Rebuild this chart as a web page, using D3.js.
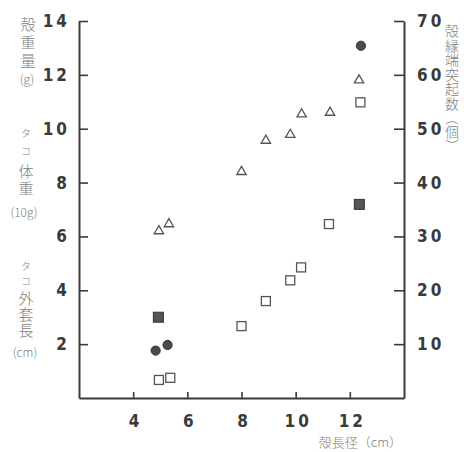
<!DOCTYPE html>
<html>
<head>
<meta charset="utf-8">
<script src="https://cdn.jsdelivr.net/npm/d3@7"></script>
<style>
  body { margin: 0; background: #fff; }
  .tick text { font-family: "DejaVu Sans Condensed", "DejaVu Sans", sans-serif; font-weight: bold; fill: #3a3a3a; }
  .title { font-family: "Noto Sans CJK JP", sans-serif; fill: #808080; font-weight: 300; }
</style>
</head>
<body>
<div id="chart"></div>
<script>
// Shell long diameter (cm) vs. measurements
const leftTicks = [2, 4, 6, 8, 10, 12, 14];
const rightTicks = [10, 20, 30, 40, 50, 60, 70];
const xTicks = [4, 6, 8, 10, 12];

// filled circles (left axis)
const circles = [[4.83, 1.76], [5.27, 1.97], [12.41, 13.08]];
// filled squares (left axis)
const filledSquares = [[4.93, 3.0], [12.35, 7.19]];
// open squares (left axis)
const openSquares = [[4.95, 0.67], [5.37, 0.75], [8.0, 2.67], [8.9, 3.6], [9.8, 4.37], [10.2, 4.85], [11.23, 6.46], [12.39, 10.98]];
// open triangles (right axis, count)
const triangles = [[4.95, 31], [5.32, 32.3], [8.0, 42], [8.9, 47.8], [9.8, 48.9], [10.22, 52.7], [11.27, 53], [12.34, 59]];

const width = 464, height = 452;
const margin = { top: 21, right: 60, bottom: 54, left: 79 };

const svg = d3.select("#chart").append("svg")
    .attr("width", width)
    .attr("height", height);

const x = d3.scaleLinear().domain([2, 14]).range([margin.left, width - margin.right]);
const yL = d3.scaleLinear().domain([0, 14]).range([height - margin.bottom, margin.top]);
const yR = d3.scaleLinear().domain([0, 70]).range([height - margin.bottom, margin.top]);

// Axes
const leftAxis = svg.append("g")
    .attr("transform", `translate(${margin.left},0)`)
    .call(d3.axisLeft(yL).tickValues(leftTicks).tickSizeInner(-9).tickSizeOuter(0).tickPadding(11));
const rightAxis = svg.append("g")
    .attr("transform", `translate(${width - margin.right},0)`)
    .call(d3.axisRight(yR).tickValues(rightTicks).tickSizeInner(-10).tickSizeOuter(0).tickPadding(13));
const bottomAxis = svg.append("g")
    .attr("transform", `translate(0,${height - margin.bottom})`)
    .call(d3.axisBottom(x).tickValues(xTicks).tickSizeInner(-6).tickSizeOuter(0).tickPadding(17));

[leftAxis, rightAxis, bottomAxis].forEach(g => {
    g.select(".domain").attr("stroke", "#3a3a3a").attr("stroke-width", 2);
    g.selectAll(".tick line").attr("stroke", "#3a3a3a").attr("stroke-width", 1.6);
    g.selectAll(".tick text").attr("font-size", 17).attr("letter-spacing", 3);
});
bottomAxis.selectAll(".tick text").attr("dx", 2);
leftAxis.selectAll(".tick text").attr("dx", 2);

// Markers
svg.append("g").selectAll("rect")
    .data(openSquares)
    .join("rect")
    .attr("x", d => x(d[0]) - 4.5)
    .attr("y", d => yL(d[1]) - 4.5)
    .attr("width", 9).attr("height", 9)
    .attr("fill", "#fff").attr("stroke", "#555").attr("stroke-width", 1.3);

svg.append("g").selectAll("rect")
    .data(filledSquares)
    .join("rect")
    .attr("x", d => x(d[0]) - 5)
    .attr("y", d => yL(d[1]) - 5)
    .attr("width", 10).attr("height", 10)
    .attr("fill", "#555").attr("stroke", "#333").attr("stroke-width", 1);

svg.append("g").selectAll("circle")
    .data(circles)
    .join("circle")
    .attr("cx", d => x(d[0]))
    .attr("cy", d => yL(d[1]))
    .attr("r", 4.6)
    .attr("fill", "#4a4a4a").attr("stroke", "#333").attr("stroke-width", 1);

const tri = d3.symbol().type(d3.symbolTriangle).size(38);
svg.append("g").selectAll("path")
    .data(triangles)
    .join("path")
    .attr("transform", d => `translate(${x(d[0])},${yR(d[1])})`)
    .attr("d", tri)
    .attr("fill", "#fff").attr("stroke", "#555").attr("stroke-width", 1.3);

// Vertical titles: parts = [[text, fontSize, letterSpacing], ...]
function vTitle(cx, top, parts) {
    const t = svg.append("text")
        .attr("class", "title")
        .attr("x", cx)
        .attr("y", top)
        .attr("writing-mode", "vertical-rl");
    parts.forEach(p => {
        t.append("tspan")
            .attr("font-size", p[1])
            .attr("letter-spacing", p[2])
            .text(p[0]);
    });
}
function unitLabel(cx, cy, str) {
    svg.append("text").attr("class", "title")
        .attr("x", cx).attr("y", cy)
        .attr("text-anchor", "middle")
        .attr("dominant-baseline", "central")
        .attr("font-size", 12)
        .text(str);
}

vTitle(28, 16.5, [["殻重量", 15, 3]]);
unitLabel(27, 78, "(g)");

vTitle(26, 128, [["タコ", 10, 8], ["体重", 15, 2]]);
unitLabel(24, 211, "(10g)");

vTitle(26, 261, [["タコ", 10, 5], ["外套長", 15, 1]]);
unitLabel(25, 351, "(cm)");

vTitle(452, 24, [["殻縁端突起数", 14, 0.5], ["（個）", 14, 0]]);

svg.append("text")
    .attr("class", "title")
    .attr("x", 402).attr("y", 447)
    .attr("text-anchor", "end")
    .attr("font-size", 13)
    .text("殻長径（cm）");
</script>
</body>
</html>
